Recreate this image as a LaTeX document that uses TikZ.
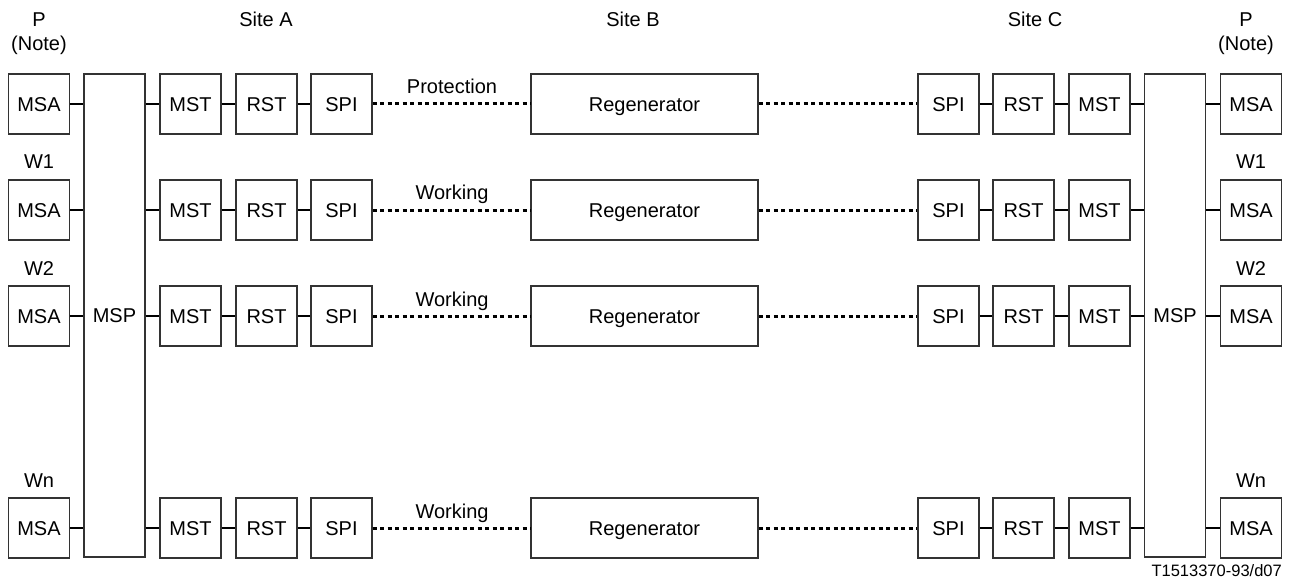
\documentclass[tikz,border=0pt]{standalone}
\usepackage{fontspec}
\setmainfont{Liberation Sans}
\begin{document}
\begin{tikzpicture}[x=1pt,y=-1pt,
  blk/.style={draw=black!80,line width=1.3pt,minimum width=61pt,minimum height=60pt,inner sep=0pt,
    text height=14.3pt,text depth=0pt,font=\fontsize{20}{24}\selectfont},
  tall/.style={blk,minimum height=483pt},
  regen/.style={blk,minimum width=227pt},
  lbl/.style={anchor=base,inner sep=0pt,font=\fontsize{20}{24}\selectfont},
  wire/.style={line width=2.2pt},
  fibre/.style={line width=3pt,dash pattern=on 4pt off 3.5pt}]
\useasboundingbox (0,0) rectangle (1292,580);

% column headings
\node[lbl] (hPL) at (39,26.7) {P};
\node[lbl] (nPL) at (39,50.5) {(Note)};
\node[lbl] (hA) at (266,26.7) {Site A};
\node[lbl] (hB) at (633,26.7) {Site B};
\node[lbl] (hC) at (1035,26.7) {Site C};
\node[lbl] (hPR) at (1246,26.7) {P};
\node[lbl] (nPR) at (1246,50.5) {(Note)};

% multiplex section protection blocks spanning all rows
\node[tall] (mspL) at (114.5,315.5) {MSP};
\node[tall] (mspR) at (1175,315.5) {MSP};

% working channel labels above the adaptation blocks
\foreach \r/\y/\w in {2/210/W1,3/316/W2,4/528/Wn}{
  \node[lbl] (wL\r) at (39,\y-41) {\w};
  \node[lbl] (wR\r) at (1251,\y-41) {\w};
}

% one chain of functions per line
\foreach \r/\y/\t in {1/104/Protection,2/210/Working,3/316/Working,4/528/Working}{
  \node[blk] (msaL\r) at (39,\y) {MSA};
  \node[blk] (mstL\r) at (190.5,\y) {MST};
  \node[blk] (rstL\r) at (266.5,\y) {RST};
  \node[blk] (spiL\r) at (341.5,\y) {SPI};
  \node[regen] (reg\r) at (644.5,\y) {Regenerator};
  \node[blk] (spiR\r) at (948.5,\y) {SPI};
  \node[blk] (rstR\r) at (1023.5,\y) {RST};
  \node[blk] (mstR\r) at (1099.5,\y) {MST};
  \node[blk] (msaR\r) at (1251,\y) {MSA};
  \node[lbl] (sec\r) at (452,\y-10) {\t};
  \draw[wire] (msaL\r.east) -- (msaL\r.east -| mspL.west);
  \draw[wire] (mstL\r.west -| mspL.east) -- (mstL\r.west);
  \draw[wire] (mstL\r) -- (rstL\r);
  \draw[wire] (rstL\r) -- (spiL\r);
  \draw[fibre] (spiL\r) -- (reg\r);
  \draw[fibre] (reg\r) -- (spiR\r);
  \draw[wire] (spiR\r) -- (rstR\r);
  \draw[wire] (rstR\r) -- (mstR\r);
  \draw[wire] (mstR\r.east) -- (mstR\r.east -| mspR.west);
  \draw[wire] (msaR\r.west -| mspR.east) -- (msaR\r.west);
}

\node[anchor=base east,inner sep=0pt,font=\fontsize{16.5}{19}\selectfont] (ref) at (1282,576.5) {T1513370-93/d07};
\end{tikzpicture}
\end{document}
